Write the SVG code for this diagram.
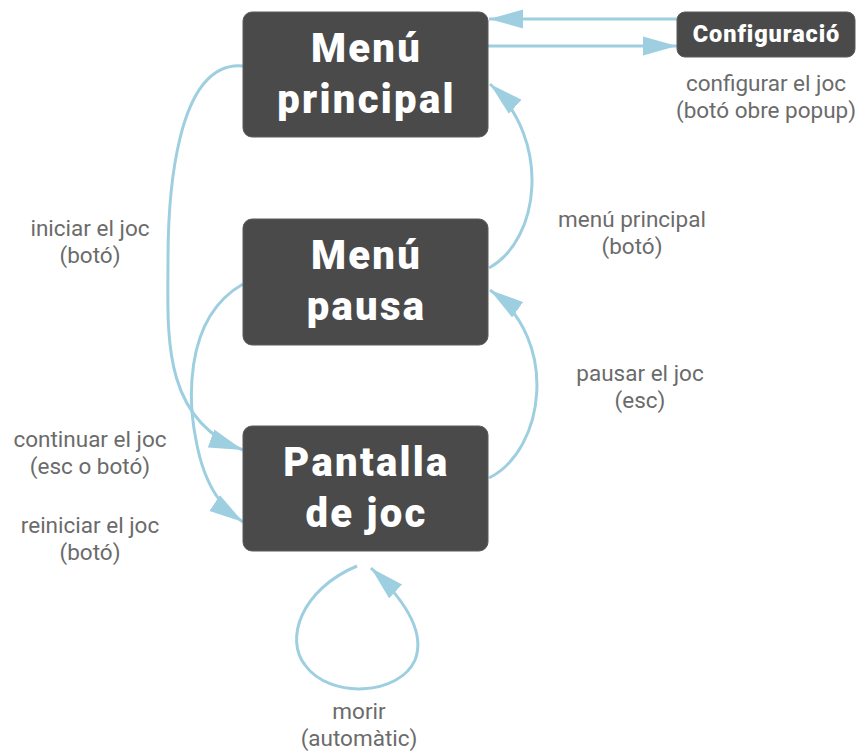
<svg xmlns="http://www.w3.org/2000/svg" width="858" height="751" viewBox="0 0 858 751">
<style>
.node rect{fill:#4a4a4a;stroke:#5a5a5a;stroke-width:1}
.nt{font-family:Roboto,"Liberation Sans",sans-serif;font-weight:900;fill:#ffffff;text-anchor:middle}
.big{font-size:40px;letter-spacing:2.3px}
.small{font-size:23.5px;letter-spacing:0.9px}
.lbl{font-family:Roboto,"Liberation Sans",sans-serif;font-size:22.5px;fill:#6b6b6b;text-anchor:middle}
.edge{fill:none;stroke:#9ecfe0;stroke-width:3}
</style>
<defs>
<marker id="ah" markerWidth="36" markerHeight="20" refX="34" refY="10" orient="auto" markerUnits="userSpaceOnUse">
<path d="M0,0.5 L34,10 L0,19.5 Z" fill="#9ecfe0"/>
</marker>
</defs>
<g id="connectors">
<path class="edge" d="M677,19 L489,19" marker-end="url(#ah)"/>
<path class="edge" d="M488,46 L677,46" marker-end="url(#ah)"/>
<path class="edge" d="M489,268 C540,240 552,140 490,84" marker-end="url(#ah)"/>
<path class="edge" d="M489,478 C545,450 560,340 490,290" marker-end="url(#ah)"/>
<path class="edge" d="M243,66 C175,60 168,200 168,260 C168,330 160,420 243,450" marker-end="url(#ah)"/>
<path class="edge" d="M243,284 C180,320 190,410 196,440 C205,490 225,510 243,522" marker-end="url(#ah)"/>
<path class="edge" d="M357,566 C300,590 285,640 305,665 C330,700 400,695 415,660 C425,635 410,605 371,568" marker-end="url(#ah)"/>
</g>
<g id="menu-principal" class="node">
<rect x="243" y="12" width="245" height="125" rx="9"/>
<text class="nt big" x="366.5" y="62">Menú</text>
<text class="nt big" x="366.5" y="113">principal</text>
</g>
<g id="menu-pausa" class="node">
<rect x="243" y="219" width="245" height="126" rx="9"/>
<text class="nt big" x="366.5" y="269">Menú</text>
<text class="nt big" x="366.5" y="320">pausa</text>
</g>
<g id="pantalla-joc" class="node">
<rect x="243" y="426" width="245" height="125" rx="9"/>
<text class="nt big" x="366.5" y="476">Pantalla</text>
<text class="nt big" x="366.5" y="527">de joc</text>
</g>
<g id="configuracio" class="node">
<rect x="677" y="12" width="178" height="45" rx="8"/>
<text class="nt small" x="766.5" y="42">Configuració</text>
</g>
<g id="labels">
<text class="lbl" x="766" y="91">configurar el joc</text>
<text class="lbl" x="766" y="118">(botó obre popup)</text>
<text class="lbl" x="90" y="236">iniciar el joc</text>
<text class="lbl" x="90" y="263">(botó)</text>
<text class="lbl" x="632" y="227">menú principal</text>
<text class="lbl" x="632" y="254">(botó)</text>
<text class="lbl" x="640" y="381">pausar el joc</text>
<text class="lbl" x="640" y="408">(esc)</text>
<text class="lbl" x="90" y="447">continuar el joc</text>
<text class="lbl" x="90" y="474">(esc o botó)</text>
<text class="lbl" x="90" y="533">reiniciar el joc</text>
<text class="lbl" x="90" y="560">(botó)</text>
<text class="lbl" x="359" y="719">morir</text>
<text class="lbl" x="359" y="746">(automàtic)</text>
</g>
</svg>
